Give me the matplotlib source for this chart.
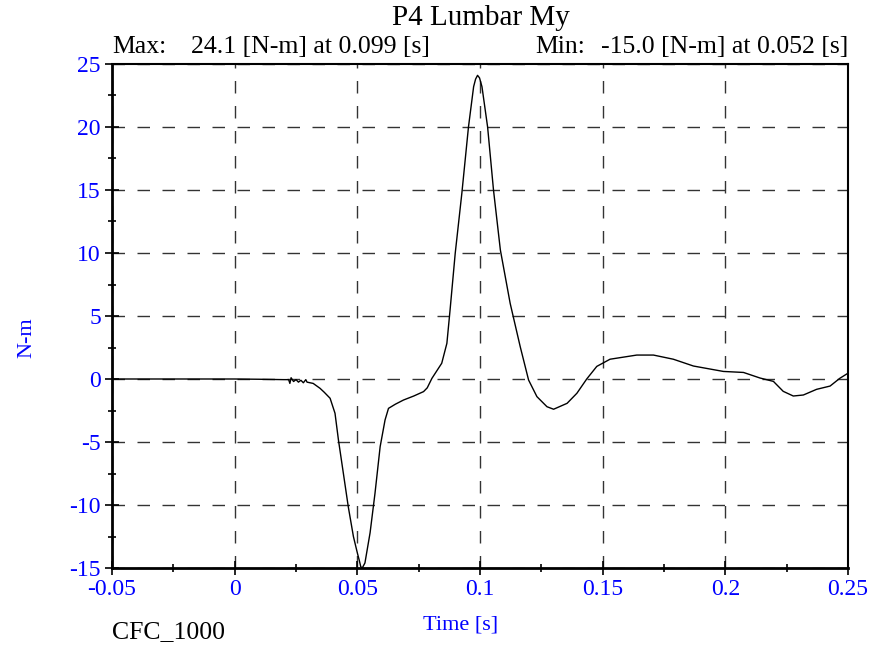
import matplotlib.pyplot as plt
from matplotlib.ticker import MultipleLocator

plt.rcParams['font.family'] = ['Liberation Serif', 'DejaVu Serif']

t = [-0.05, -0.03, -0.01, 0.0, 0.01, 0.02, 0.022, 0.0225, 0.023, 0.024, 0.025,
     0.026, 0.027, 0.028, 0.029, 0.0295, 0.032, 0.0348, 0.0365, 0.0389, 0.0409,
     0.0423, 0.0443, 0.0463, 0.0484, 0.050, 0.0508, 0.0514, 0.052, 0.0531,
     0.0552, 0.0572, 0.0593, 0.0613, 0.0627, 0.0655, 0.0688, 0.0730, 0.0770,
     0.0785, 0.0804, 0.0844, 0.0865, 0.0878, 0.0899, 0.0926, 0.0953, 0.0974,
     0.0982, 0.099, 0.0998, 0.1008, 0.1031, 0.1055, 0.1083, 0.1123, 0.1164,
     0.1198, 0.1232, 0.1273, 0.130, 0.1355, 0.1395, 0.1435, 0.1476, 0.153,
     0.1639, 0.1707, 0.1788, 0.187, 0.1992, 0.2074, 0.2141, 0.2196, 0.2236,
     0.2277, 0.2318, 0.2372, 0.2427, 0.2467, 0.25]
my = [0.0, 0.0, 0.0, 0.0, -0.02, -0.05, -0.05, -0.35, 0.1, -0.2, -0.05,
      -0.25, -0.1, -0.3, -0.05, -0.25, -0.35, -0.74, -1.05, -1.53, -2.72,
      -4.84, -7.48, -10.13, -12.5, -13.8, -14.4, -14.9, -15.0, -14.6,
      -12.2, -9.07, -5.37, -3.25, -2.33, -2.0, -1.67, -1.35, -1.0,
      -0.7, 0.05, 1.25, 2.83, 5.48, 9.98, 14.74, 20.0, 23.2,
      23.8, 24.1, 23.9, 23.2, 20.0, 15.0, 10.24, 6.0, 2.56,
      -0.08, -1.4, -2.2, -2.4, -1.93, -1.13, 0.0, 1.0, 1.57,
      1.9, 1.9, 1.57, 1.03, 0.6, 0.52, 0.08, -0.19, -0.98,
      -1.35, -1.27, -0.82, -0.56, 0.06, 0.46]

xticks = [-0.05, 0, 0.05, 0.1, 0.15, 0.2, 0.25]
xlabels = ['-0.05', '0', '0.05', '0.1', '0.15', '0.2', '0.25']
yticks = [-15, -10, -5, 0, 5, 10, 15, 20, 25]

fig = plt.figure(figsize=(8.88, 6.47), dpi=100)
ax = fig.add_axes([112 / 888, 79 / 647, 736 / 888, 504 / 647])

ax.plot(t, my, color='black', lw=1.0, zorder=3)

ax.set_xlim(-0.05, 0.25)
ax.set_ylim(-15, 25)
ax.set_xticks(xticks)
ax.set_xticklabels(xlabels)
ax.set_yticks(yticks)
ax.set_yticklabels([str(v) for v in yticks])
ax.xaxis.set_minor_locator(MultipleLocator(0.025))
ax.yaxis.set_minor_locator(MultipleLocator(2.5))
ax.tick_params(which='major', direction='inout', length=10, width=1.2,
               labelsize=17, labelcolor='blue', pad=3)
ax.tick_params(which='minor', direction='inout', length=6, width=1.2)

# dashed grid, long dashes like the reference
ax.grid(True, which='major', color='#333333', linestyle=(0, (9, 9)), lw=1.0)

for s in ['left', 'bottom']:
    ax.spines[s].set_linewidth(2.0)
for s in ['top', 'right']:
    ax.spines[s].set_linewidth(1.5)

fig.text(27 / 888, 1 - 338 / 647, 'N-m', color='blue', fontsize=16,
         rotation=90, ha='center', va='center')
fig.text(461 / 888, 1 - 625 / 647, 'Time [s]', color='blue', fontsize=16,
         ha='center', va='center')

fig.text(481 / 888, 1 - 18 / 647, 'P4 Lumbar My', ha='center', va='center', fontsize=21)
fig.text(112 / 888, 1 - 47 / 647, 'Max:', ha='left', va='center', fontsize=18.5)
fig.text(191 / 888, 1 - 47 / 647, '24.1 [N-m] at 0.099 [s]', ha='left', va='center', fontsize=18.5)
fig.text(535 / 888, 1 - 47 / 647, 'Min:', ha='left', va='center', fontsize=18.5)
fig.text(848 / 888, 1 - 47 / 647, '-15.0 [N-m] at 0.052 [s]', ha='right', va='center', fontsize=18.5)
fig.text(112 / 888, 1 - 632 / 647, 'CFC_1000', ha='left', va='center', fontsize=18.5)

fig.savefig('out.png', dpi=100)
